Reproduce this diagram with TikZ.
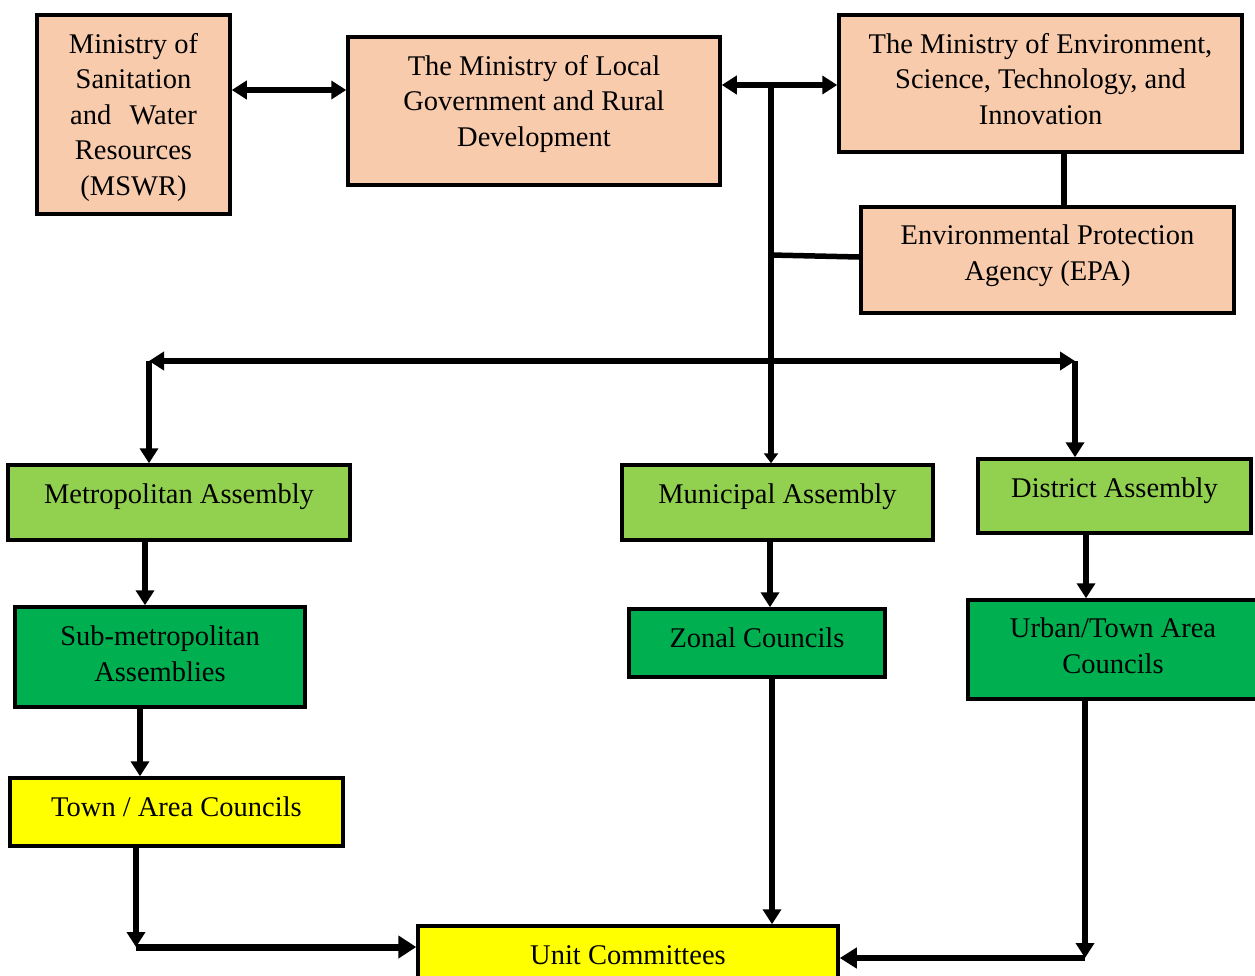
\documentclass[tikz,border=0pt]{standalone}
\usepackage{fontspec}
\setmainfont{Liberation Serif}
\usetikzlibrary{arrows.meta}
\definecolor{peach}{HTML}{F8CBAD}
\definecolor{lgreen}{HTML}{92D050}
\definecolor{dgreen}{HTML}{00B050}
\definecolor{yel}{HTML}{FFFF00}
\begin{document}
\begin{tikzpicture}[x=1pt,y=-1pt,
  box/.style={draw=black,line width=3.5pt,inner sep=0pt,rectangle},
  txt/.style={inner sep=0pt,align=center,anchor=base,font=\fontsize{28.5pt}{35.5pt}\selectfont},
  conn/.style={line width=5.5pt,draw=black},
  tip/.style={-{Triangle[length=15pt,width=18pt]}},
  dtip/.style={{Triangle[length=15pt,width=18pt]}-{Triangle[length=15pt,width=18pt]}}]
\useasboundingbox (0,0) rectangle (1255,975);
% boxes
\node[box,fill=peach,minimum width=193pt,minimum height=199pt] (mswr) at (133.5,114.5) {};
\node[box,fill=peach,minimum width=372pt,minimum height=148pt] (mlg) at (534,111) {};
\node[box,fill=peach,minimum width=403pt,minimum height=137pt] (mesti) at (1040.5,83.5) {};
\node[box,fill=peach,minimum width=373pt,minimum height=106pt] (epa) at (1047.5,260) {};
\node[box,fill=lgreen,minimum width=342pt,minimum height=75pt] (metro) at (179,502.5) {};
\node[box,fill=lgreen,minimum width=311pt,minimum height=75pt] (mun) at (777.5,502.5) {};
\node[box,fill=lgreen,minimum width=273pt,minimum height=74pt] (dist) at (1114.5,496) {};
\node[box,fill=dgreen,minimum width=290pt,minimum height=100pt] (sub) at (160,657) {};
\node[box,fill=dgreen,minimum width=256pt,minimum height=68pt] (zon) at (757,643) {};
\node[box,fill=dgreen,minimum width=290pt,minimum height=99pt] (urb) at (1113,649.5) {};
\node[box,fill=yel,minimum width=333pt,minimum height=68pt] (town) at (176.5,812) {};
\node[box,fill=yel,minimum width=420pt,minimum height=64pt] (unit) at (628,958) {};
% texts (anchor = baseline of the last line)
\node[txt] (mswrT) at (133.5,195) {Ministry of\\Sanitation\\and\hspace{0.64em}Water\\Resources\\(MSWR)};
\node[txt] (mlgT) at (534,146) {The Ministry of Local\\Government and Rural\\Development};
\node[txt] (mestiT) at (1040.5,124) {The Ministry of Environment,\\Science, Technology, and\\Innovation};
\node[txt] (epaT) at (1047.5,280) {Environmental Protection\\Agency (EPA)};
\node[txt] (metroT) at (179,503) {Metropolitan Assembly};
\node[txt] (munT) at (777.5,503) {Municipal Assembly};
\node[txt] (distT) at (1114.5,497) {District Assembly};
\node[txt] (subT) at (160,681) {Sub-metropolitan\\Assemblies};
\node[txt] (zonT) at (757,647) {Zonal Councils};
\node[txt] (urbT) at (1113,673) {Urban/Town Area\\Councils};
\node[txt] (townT) at (176.5,816) {Town / Area Councils};
\node[txt] (unitT) at (628,964) {Unit Committees};
% junction coordinates
\coordinate (top) at (771,85);
\coordinate (epaJ) at (771,255);
\coordinate (barL) at (149,361);
\coordinate (barR) at (1075,361);
\coordinate (blc) at (136,947);
\coordinate (brc) at (1085,958);
% connectors
\draw[conn,dtip] (mswr.east |- 0,90) -- (mlg.west |- 0,90);
\draw[conn,dtip] (mlg.east |- 0,85) -- (mesti.west |- 0,85);
\draw[conn,-{Triangle[length=10pt,width=14pt]}] (top) -- (mun.north -| top);
\draw[conn] (epaJ) -- (epa.west |- 0,257);
\draw[conn] (mesti.south -| 1064,0) -- (epa.north -| 1064,0);
\draw[conn,dtip] (barL) -- (barR);
\draw[conn,tip] (barL) -- (metro.north -| barL);
\draw[conn,tip] (barR) -- (dist.north -| barR);
\draw[conn,tip] (metro.south -| 145,0) -- (sub.north -| 145,0);
\draw[conn,tip] (mun.south -| 770,0) -- (zon.north -| 770,0);
\draw[conn,tip] (dist.south -| 1086,0) -- (urb.north -| 1086,0);
\draw[conn,tip] (sub.south -| 140,0) -- (town.north -| 140,0);
\draw[conn,tip] (zon.south -| 772,0) -- (unit.north -| 772,0);
\draw[conn,tip] (town.south -| blc) -- (blc);
\draw[conn,line width=7pt,-{Triangle[length=18pt,width=22pt]}] (blc) -- (unit.west |- blc);
\draw[conn,tip] (urb.south -| brc) -- (brc);
\draw[conn,line width=6.5pt,-{Triangle[length=17pt,width=20pt]}] (brc) -- (unit.east |- brc);
\end{tikzpicture}
\end{document}
